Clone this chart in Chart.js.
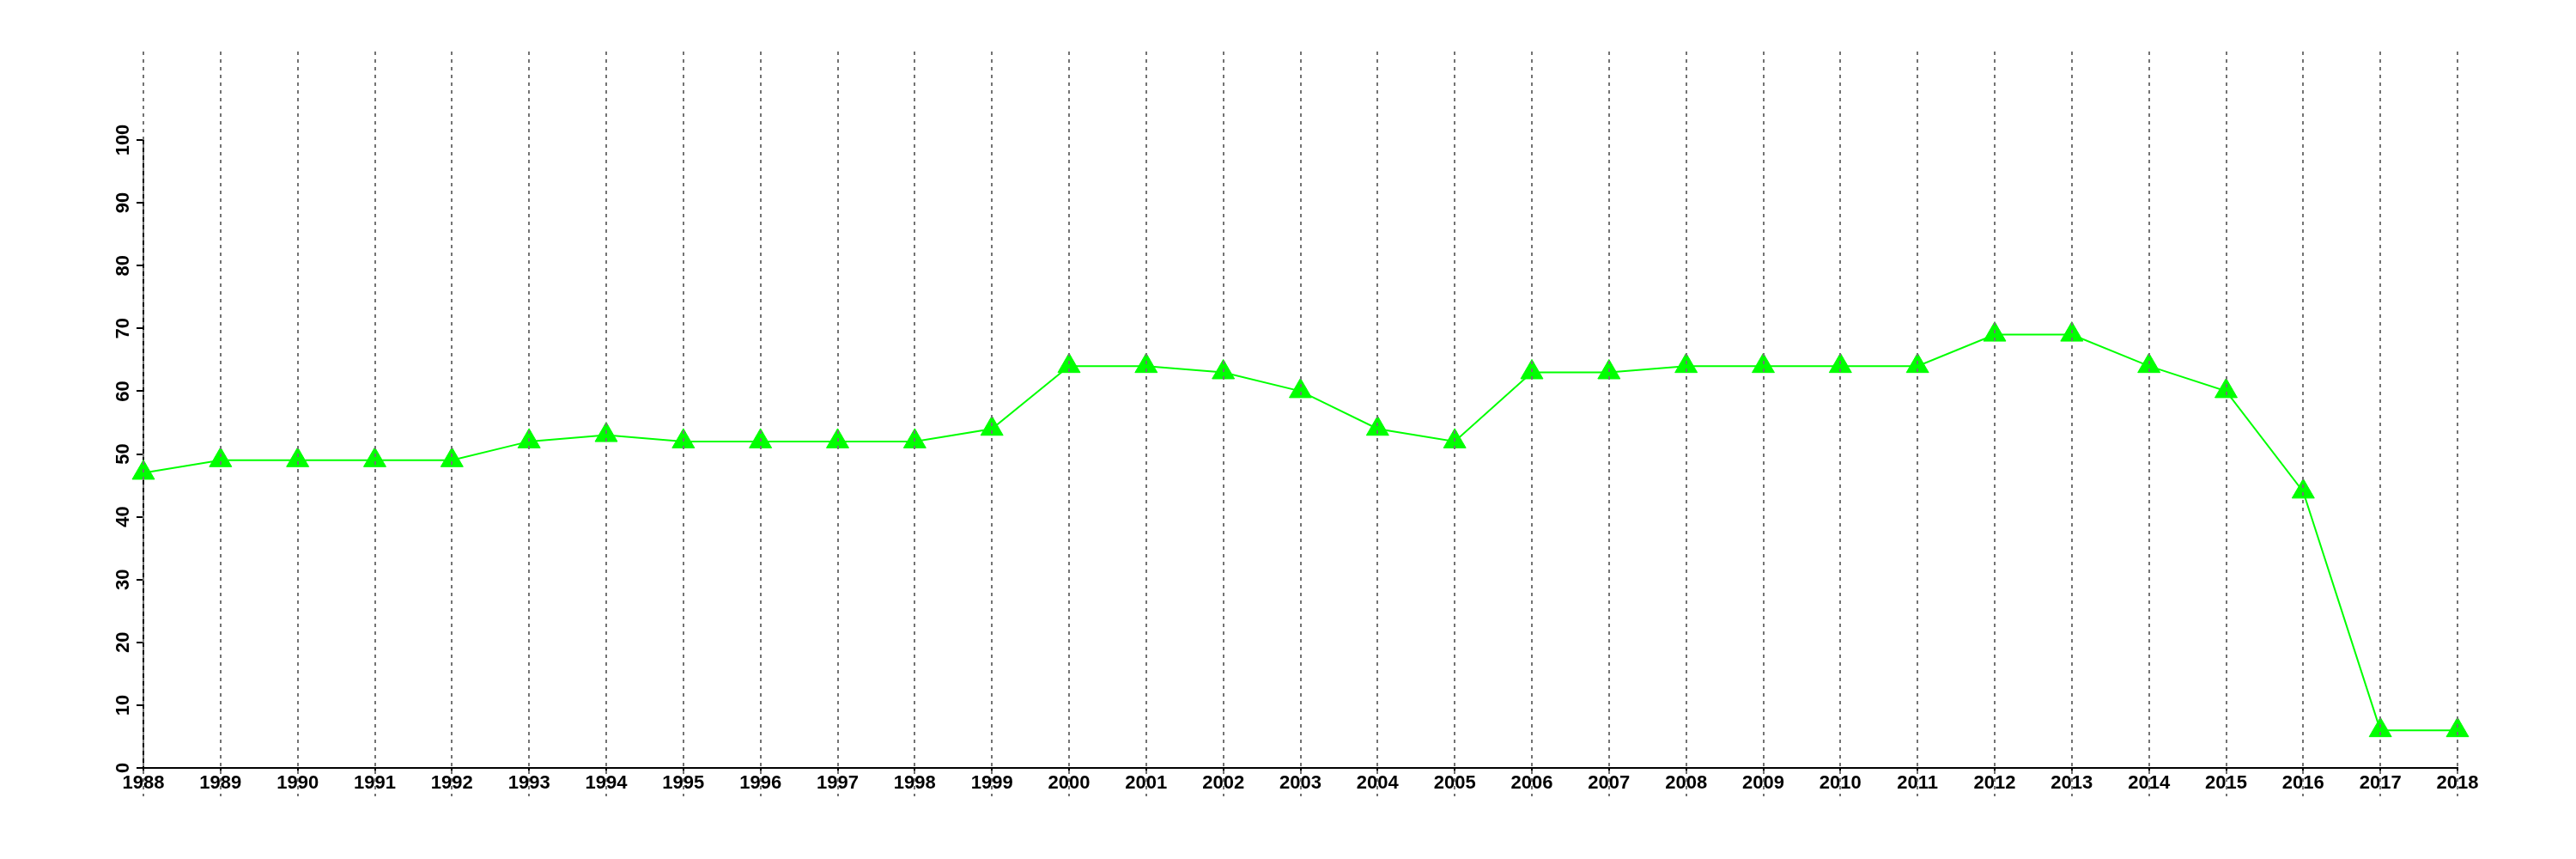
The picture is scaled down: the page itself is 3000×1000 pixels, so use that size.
<!DOCTYPE html>
<html>
<head>
<meta charset="utf-8">
<script src="https://cdn.jsdelivr.net/npm/chart.js@4"></script>
<style>
  html, body { margin: 0; padding: 0; background: #fff; }
  #wrap { width: 3000px; height: 1000px; }
</style>
</head>
<body>
<div id="wrap"><canvas id="chart" width="3000" height="1000"></canvas></div>
<script>
// Years along the bottom
const years = ["1988", "1989", "1990", "1991", "1992", "1993", "1994", "1995", "1996", "1997",
  "1998", "1999", "2000", "2001", "2002", "2003", "2004", "2005", "2006", "2007",
  "2008", "2009", "2010", "2011", "2012", "2013", "2014", "2015", "2016", "2017", "2018"];

// Values
const values = [47, 49, 49, 49, 49, 52, 53, 52, 52, 52,
  52, 54, 64, 64, 63, 60, 54, 52, 63, 63,
  64, 64, 64, 64, 69, 69, 64, 60, 44, 6, 6];

const yMin = 0;
const yMax = 100;
const yStep = 10;

const GREEN = "#00ff00";
const FONT = { family: "'Liberation Sans', Arial, sans-serif", size: 22, weight: "bold" };

// dotted vertical lines at each year, running past the plot area
const dottedYears = {
  id: "dottedYears",
  afterDatasetsDraw(chart) {
    const { ctx, chartArea, scales } = chart;
    const x = scales.x;
    ctx.save();
    ctx.strokeStyle = "#737373";
    ctx.lineWidth = 2;
    ctx.setLineDash([4, 5]);
    for (let i = 0; i < years.length; i++) {
      const px = Math.round(x.getPixelForTick(i));
      ctx.beginPath();
      ctx.moveTo(px, chartArea.top - 103);
      ctx.lineTo(px, chartArea.bottom + 33);
      ctx.stroke();
    }
    ctx.restore();
  }
};

const ctx = document.getElementById("chart").getContext("2d");
const chart = new Chart(ctx, {
  type: "line",
  data: {
    labels: years,
    datasets: [
      {
        data: values,
        borderColor: GREEN,
        backgroundColor: GREEN,
        borderWidth: 2,
        pointStyle: "triangle",
        pointRadius: 15,
        pointBorderWidth: 1,
        pointBackgroundColor: GREEN,
        pointBorderColor: GREEN,
        tension: 0,
        fill: false
      }
    ]
  },
  options: {
    responsive: false,
    animation: false,
    devicePixelRatio: 1,
    layout: { padding: { left: 107, right: 138, top: 163, bottom: 56 } },
    plugins: {
      legend: { display: false },
      tooltip: { enabled: false }
    },
    scales: {
      x: {
        type: "category",
        offset: false,
        grid: { drawOnChartArea: false, drawTicks: true, tickLength: 6, color: "#000", lineWidth: 2 },
        border: { display: true, color: "#000", width: 2 },
        ticks: { color: "#000", font: FONT, padding: -1, maxRotation: 0, autoSkip: false },
        afterFit(s) { s.height = 50; }
      },
      y: {
        min: yMin,
        max: yMax,
        grid: { drawOnChartArea: false, drawTicks: true, tickLength: 8, color: "#000", lineWidth: 2 },
        border: { display: true, color: "#000", width: 2 },
        ticks: {
          stepSize: yStep,
          color: "#000",
          font: FONT,
          minRotation: 90,
          maxRotation: 90,
          crossAlign: "center",
          padding: -3
        },
        afterFit(s) { s.width = 60; }
      }
    }
  },
  plugins: [dottedYears]
});
</script>
</body>
</html>
